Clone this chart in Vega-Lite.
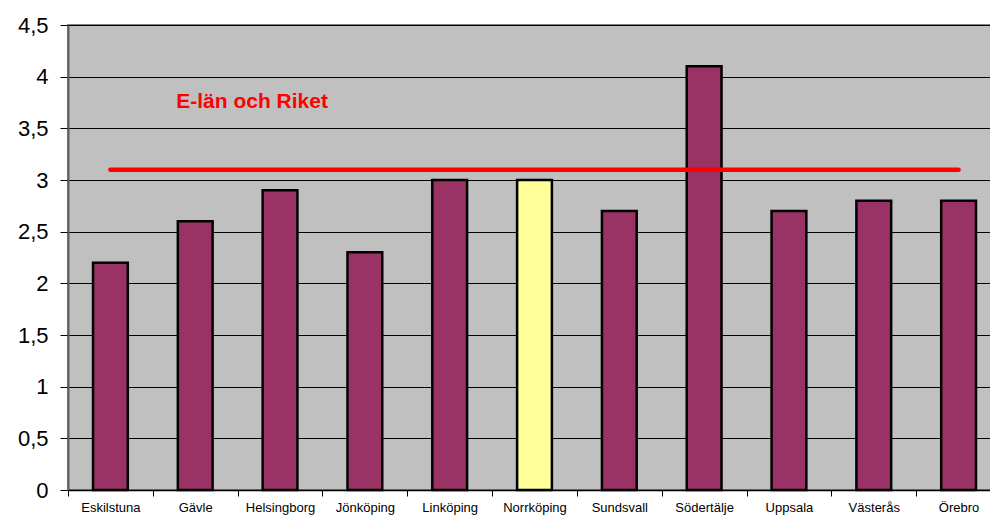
{
  "$schema": "https://vega.github.io/schema/vega-lite/v6.json",
  "autosize": {"type": "none"},
  "padding": {"left": 68, "top": 25, "right": 0, "bottom": 25},
  "width": 933,
  "height": 465,
  "background": "white",
  "config": {
    "view": {"fill": "#C0C0C0", "stroke": "#808080", "strokeWidth": 2},
    "font": "Arial, Liberation Sans, sans-serif"
  },
  "data": {
    "values": [
      {"city": "Eskilstuna", "value": 2.2, "riket": 3.1},
      {"city": "Gävle", "value": 2.6, "riket": 3.1},
      {"city": "Helsingborg", "value": 2.9, "riket": 3.1},
      {"city": "Jönköping", "value": 2.3, "riket": 3.1},
      {"city": "Linköping", "value": 3.0, "riket": 3.1},
      {"city": "Norrköping", "value": 3.0, "riket": 3.1},
      {"city": "Sundsvall", "value": 2.7, "riket": 3.1},
      {"city": "Södertälje", "value": 4.1, "riket": 3.1},
      {"city": "Uppsala", "value": 2.7, "riket": 3.1},
      {"city": "Västerås", "value": 2.8, "riket": 3.1},
      {"city": "Örebro", "value": 2.8, "riket": 3.1}
    ]
  },
  "encoding": {
    "x": {
      "field": "city",
      "type": "nominal",
      "sort": null,
      "scale": {"paddingInner": 0, "paddingOuter": 0},
      "axis": {
        "title": null,
        "labelAngle": 0,
        "labelFontSize": 13,
        "labelColor": "black",
        "labelPadding": 5,
        "tickBand": "extent",
        "tickSize": 6,
        "tickColor": "black",
        "domainColor": "black",
        "domainWidth": 1.5,
        "labelFont": "Arial, Liberation Sans, sans-serif"
      }
    }
  },
  "layer": [
    {
      "mark": {"type": "bar", "width": {"band": 0.41}, "stroke": "black", "strokeWidth": 2.5},
      "encoding": {
        "y": {
          "field": "value",
          "type": "quantitative",
          "scale": {"domain": [0, 4.5], "nice": false},
          "axis": {
            "title": null,
            "values": [0, 0.5, 1, 1.5, 2, 2.5, 3, 3.5, 4, 4.5],
            "labelExpr": "replace(format(datum.value, '~g'), '.', ',')",
            "labelFontSize": 22,
            "labelColor": "black",
            "labelPadding": 12,
            "tickSize": 8,
            "tickColor": "black",
            "domainColor": "#606060",
            "domainWidth": 2,
            "grid": true,
            "gridColor": "black",
            "gridWidth": 1,
            "labelFont": "Arial, Liberation Sans, sans-serif"
          }
        },
        "color": {
          "condition": {"test": "datum.city === 'Norrköping'", "value": "#FFFF99"},
          "value": "#993366"
        }
      }
    },
    {
      "mark": {"type": "line", "color": "#FF0000", "strokeWidth": 4.5, "strokeCap": "round"},
      "encoding": {
        "y": {"field": "riket", "type": "quantitative"}
      }
    },
    {
      "data": {"values": [{"city": "Gävle", "y": 3.7, "label": "E-län och Riket"}]},
      "mark": {"type": "text", "align": "left", "baseline": "alphabetic", "dx": -19, "fontSize": 21, "fontWeight": "bold", "color": "#FF0000", "font": "Arial, Liberation Sans, sans-serif"},
      "encoding": {
        "y": {"field": "y", "type": "quantitative"},
        "text": {"field": "label"}
      }
    }
  ]
}
